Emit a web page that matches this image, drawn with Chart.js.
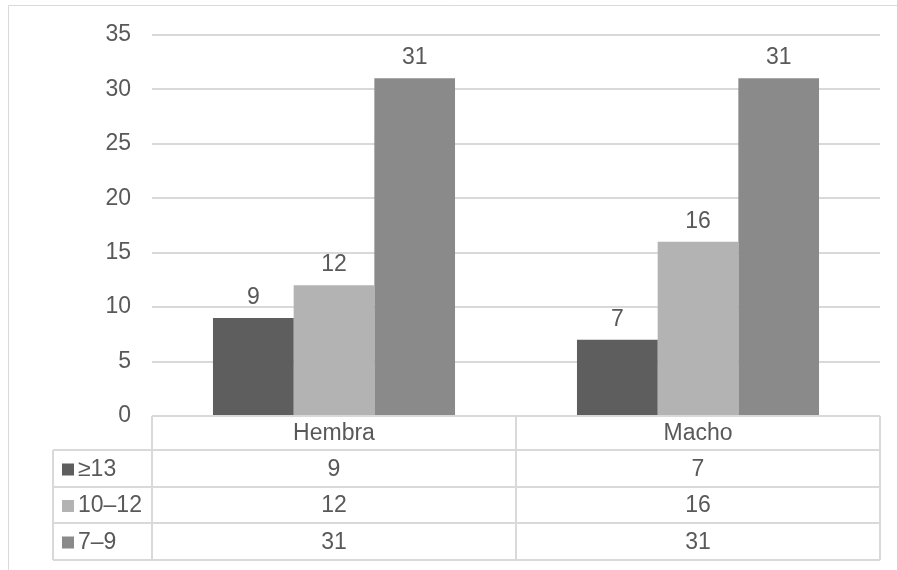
<!DOCTYPE html>
<html>
<head>
<meta charset="utf-8">
<script src="https://cdn.jsdelivr.net/npm/chart.js@4/dist/chart.umd.min.js"></script>
<style>
  html, body { margin: 0; padding: 0; background: #ffffff; }
  #wrap { width: 897px; height: 570px; position: relative; }
</style>
</head>
<body>
<div id="wrap"><canvas id="c" width="897" height="570"></canvas></div>
<script>
// Categories and series
const categories = ['Hembra', 'Macho'];
const seriesNames = ['\u226513', '10\u201312', '7\u20139'];
const valuesGe13 = [9, 7];
const values10to12 = [12, 16];
const values7to9 = [31, 31];
const yTicks = [0, 5, 10, 15, 20, 25, 30, 35];

const colors = ['#5e5e5e', '#b3b3b3', '#8a8a8a'];
const textColor = '#595959';
const lineColor = '#d9d9d9';
const FONT = '"Liberation Sans", Arial, sans-serif';
const FS = 23;

// Outer frame lines around the chart
const framePlugin = {
  id: 'frame',
  beforeDraw(chart) {
    const ctx = chart.ctx;
    ctx.save();
    ctx.fillStyle = '#ffffff';
    ctx.fillRect(0, 0, chart.width, chart.height);
    ctx.strokeStyle = lineColor;
    ctx.lineWidth = 1;
    ctx.beginPath();
    ctx.moveTo(8.5, 570);
    ctx.lineTo(8.5, 5.5);
    ctx.lineTo(897, 5.5);
    ctx.stroke();
    ctx.restore();
  }
};

// Value labels above each bar
const valueLabels = {
  id: 'valueLabels',
  afterDatasetsDraw(chart) {
    const ctx = chart.ctx;
    ctx.save();
    ctx.font = FS + 'px ' + FONT;
    ctx.fillStyle = textColor;
    ctx.textAlign = 'center';
    ctx.textBaseline = 'bottom';
    chart.data.datasets.forEach((ds, i) => {
      const meta = chart.getDatasetMeta(i);
      meta.data.forEach((bar, j) => {
        ctx.fillText(String(ds.data[j]), bar.x, bar.y - 9);
      });
    });
    ctx.restore();
  }
};

// Data table under the plot area
const dataTable = {
  id: 'dataTable',
  afterDraw(chart) {
    const ctx = chart.ctx;
    const area = chart.chartArea;
    const x = chart.scales.x;
    const left = area.left, right = area.right;
    const top = area.bottom;
    const legendLeft = 53;
    const rowH = [34, 37, 36, 37];
    const rows = [top];
    rowH.forEach(h => rows.push(rows[rows.length - 1] + h));
    const n = categories.length;
    const bounds = [];
    for (let i = 0; i <= n; i++) bounds.push(left + (right - left) * i / n);

    ctx.save();
    ctx.strokeStyle = lineColor;
    ctx.lineWidth = 2;
    ctx.beginPath();
    // header row
    ctx.moveTo(left, rows[0]); ctx.lineTo(right, rows[0]);
    // body rows
    for (let r = 1; r < rows.length; r++) {
      ctx.moveTo(legendLeft, rows[r]); ctx.lineTo(right, rows[r]);
    }
    // verticals
    ctx.moveTo(legendLeft, rows[1]); ctx.lineTo(legendLeft, rows[rows.length - 1]);
    bounds.forEach(b => { ctx.moveTo(b, rows[0]); ctx.lineTo(b, rows[rows.length - 1]); });
    ctx.stroke();

    ctx.font = FS + 'px ' + FONT;
    ctx.fillStyle = textColor;
    ctx.textBaseline = 'middle';
    ctx.textAlign = 'center';
    categories.forEach((c, i) => {
      ctx.fillText(c, x.getPixelForValue(i), (rows[0] + rows[1]) / 2 + 1);
    });
    chart.data.datasets.forEach((ds, r) => {
      const cy = (rows[r + 1] + rows[r + 2]) / 2 + 1;
      ctx.textAlign = 'center';
      ctx.fillStyle = textColor;
      ds.data.forEach((v, i) => ctx.fillText(String(v), x.getPixelForValue(i), cy));
      ctx.fillStyle = ds.backgroundColor;
      ctx.fillRect(62, cy - 6, 12, 12);
      ctx.fillStyle = textColor;
      ctx.textAlign = 'left';
      ctx.fillText(ds.label, 78, cy);
    });
    ctx.restore();
  }
};

new Chart(document.getElementById('c'), {
  type: 'bar',
  data: {
    labels: categories,
    datasets: [
      { label: seriesNames[0], data: valuesGe13, backgroundColor: colors[0] },
      { label: seriesNames[1], data: values10to12, backgroundColor: colors[1] },
      { label: seriesNames[2], data: values7to9, backgroundColor: colors[2] }
    ]
  },
  options: {
    responsive: false,
    animation: false,
    events: [],
    layout: { padding: { left: 0, right: 17, top: 22, bottom: 154 } },
    datasets: { bar: { categoryPercentage: 0.665, barPercentage: 1.0, borderWidth: 0 } },
    plugins: {
      legend: { display: false },
      title: { display: false },
      tooltip: { enabled: false }
    },
    scales: {
      x: {
        display: false,
        grid: { display: false }
      },
      y: {
        min: 0,
        max: 35,
        afterBuildTicks(scale) { scale.ticks = yTicks.map(v => ({ value: v })); },
        afterFit(scale) { scale.width = 152; },
        border: { display: false },
        grid: { color: lineColor, lineWidth: 2, drawTicks: false },
        ticks: { color: textColor, font: { size: FS, family: FONT }, padding: 21 }
      }
    }
  },
  plugins: [framePlugin, valueLabels, dataTable]
});
</script>
</body>
</html>
